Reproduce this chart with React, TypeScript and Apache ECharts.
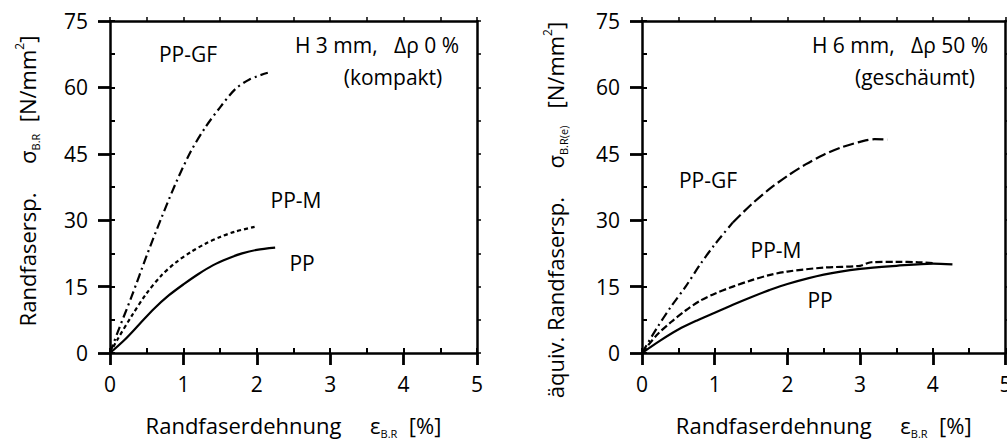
import React, { useEffect, useRef } from "react";
import * as echarts from "echarts";

const FONT = "'Open Sans', sans-serif";

// Left panel: H 3 mm, Δρ 0 % (kompakt)
const L_GF_X = [0, 0.1, 0.3, 0.5, 0.7, 0.9, 1.1, 1.3, 1.5, 1.7, 1.9, 2.15];
const L_GF_Y = [0, 4.5, 13, 22, 30.5, 38.5, 45.5, 51, 55.5, 59.5, 61.8, 63.3];
const L_M_X = [0, 0.1, 0.3, 0.5, 0.7, 0.9, 1.1, 1.3, 1.5, 1.7, 1.97];
const L_M_Y = [0, 3, 8.5, 13.5, 17.5, 20.5, 22.8, 24.7, 26.2, 27.4, 28.5];
const L_PP_X = [0, 0.2, 0.4, 0.6, 0.8, 1.0, 1.2, 1.4, 1.6, 1.8, 2.0, 2.25];
const L_PP_Y = [0, 3, 6.5, 10, 13, 15.5, 17.8, 19.8, 21.3, 22.5, 23.3, 23.8];

// Right panel: H 6 mm, Δρ 50 % (geschäumt)
const R_GF_A_X = [0, 0.2, 0.4, 0.6, 0.8, 1.0, 1.25];
const R_GF_A_Y = [0, 5.5, 10.5, 15, 20, 24.5, 29.5];
const R_GF_B_X = [1.25, 1.5, 1.75, 2.0, 2.25, 2.5, 2.75, 3.0, 3.2, 3.38];
const R_GF_B_Y = [29.5, 33.5, 37, 40, 42.6, 44.8, 46.5, 47.7, 48.3, 48.2];
const R_M_X = [0, 0.2, 0.4, 0.6, 0.8, 1.0, 1.25, 1.5, 1.75, 2.0, 2.5, 3.0, 3.15, 3.5, 3.8, 4.0];
const R_M_Y = [0, 4, 7, 9.6, 11.8, 13.4, 15, 16.4, 17.6, 18.4, 19.3, 19.7, 20.5, 20.6, 20.5, 20.3];
const R_PP_X = [0, 0.25, 0.5, 0.75, 1.0, 1.25, 1.5, 1.75, 2.0, 2.5, 3.0, 3.5, 4.0, 4.27];
const R_PP_Y = [0, 2.8, 5.3, 7.3, 9.1, 10.9, 12.6, 14.2, 15.6, 17.7, 19.0, 19.7, 20.2, 20.0];

const X_MIN = 0, X_MAX = 5, X_STEP = 1;
const Y_MIN = 0, Y_MAX = 75, Y_STEP = 15;

const pairs = (xs: number[], ys: number[]) => xs.map((x, i) => [x, ys[i]]);

const subRich = {
  sub: { fontSize: 11, fontFamily: FONT, verticalAlign: "bottom", lineHeight: 12, fill: "#000", color: "#000" },
  sup: { fontSize: 12, fontFamily: FONT, verticalAlign: "top", lineHeight: 12, fill: "#000", color: "#000" },
};

function xAxes(gridIndex: number) {
  return [
    {
      gridIndex, type: "value", min: X_MIN, max: X_MAX, interval: X_STEP, position: "bottom",
      axisLine: { show: true, onZero: false, lineStyle: { color: "#000", width: 2.5 } },
      axisTick: { show: true, inside: false, length: 12, lineStyle: { color: "#000", width: 2.8 } },
      axisLabel: { show: true, margin: 20, fontSize: 21, color: "#000", fontFamily: FONT },
      splitLine: { show: false },
      name: "Randfaserdehnung     ε{sub|B.R}  [%]",
      nameLocation: "middle", nameGap: 58,
      nameTextStyle: { fontSize: 22, fontFamily: FONT, color: "#000", lineHeight: 28, rich: subRich },
    },
    {
      gridIndex, type: "value", min: X_MIN, max: X_MAX, interval: 0.5, position: "bottom",
      axisLine: { show: false, onZero: false },
      axisTick: { show: true, inside: true, length: 5, lineStyle: { color: "#000", width: 2 } },
      axisLabel: { show: false }, splitLine: { show: false },
    },
    {
      gridIndex, type: "value", min: X_MIN, max: X_MAX, interval: 0.5, position: "top",
      axisLine: { show: true, onZero: false, lineStyle: { color: "#000", width: 2.5 } },
      axisTick: { show: true, inside: false, length: 4, lineStyle: { color: "#000", width: 1.5 } },
      axisLabel: { show: false }, splitLine: { show: false },
    },
  ];
}

function yAxes(gridIndex: number) {
  return [
    {
      gridIndex, type: "value", min: Y_MIN, max: Y_MAX, interval: Y_STEP, position: "left",
      axisLine: { show: true, onZero: false, lineStyle: { color: "#000", width: 2.5 } },
      axisTick: { show: true, inside: false, length: 12, lineStyle: { color: "#000", width: 2.8 } },
      axisLabel: { show: true, margin: 22, fontSize: 21, color: "#000", fontFamily: FONT },
      splitLine: { show: false },
    },
    {
      gridIndex, type: "value", min: Y_MIN, max: Y_MAX, interval: 7.5, position: "left",
      axisLine: { show: false, onZero: false },
      axisTick: { show: true, inside: true, length: 5, lineStyle: { color: "#000", width: 2 } },
      axisLabel: { show: false }, splitLine: { show: false },
    },
    {
      gridIndex, type: "value", min: Y_MIN, max: Y_MAX, interval: 7.5, position: "right",
      axisLine: { show: true, onZero: false, lineStyle: { color: "#000", width: 2.5 } },
      axisTick: { show: true, inside: false, length: 4, lineStyle: { color: "#000", width: 1.5 } },
      axisLabel: { show: false }, splitLine: { show: false },
    },
  ];
}

function line(name: string, xi: number, data: number[][], dash: any) {
  return {
    name, type: "line", xAxisIndex: xi, yAxisIndex: xi, data,
    showSymbol: false, symbol: "none", smooth: 0.3,
    lineStyle: { color: "#000", width: 2.2, type: dash, cap: "butt", join: "round" },
    silent: true, z: 5,
  };
}

function txt(text: string, x: number, y: number, extra: any = {}) {
  return {
    type: "text", x, y, z: 10,
    style: { text, fill: "#000", fontSize: 21, fontFamily: FONT, align: "center", verticalAlign: "middle", ...extra },
  };
}

export default function App() {
  const ref = useRef<HTMLDivElement>(null);
  useEffect(() => {
    if (!ref.current) return;
    const chart = echarts.init(ref.current, null, { renderer: "svg" });
    const option: any = {
      animation: false,
      backgroundColor: "#fff",
      grid: [
        { left: 110, right: 1007 - 477, top: 21, bottom: 88, outerBoundsMode: "none" },
        { left: 642, right: 1.5, top: 21, bottom: 88, outerBoundsMode: "none" },
      ],
      xAxis: [...xAxes(0), ...xAxes(1)],
      yAxis: [...yAxes(0), ...yAxes(1)],
      series: [
        line("PP-GF", 0, pairs(L_GF_X, L_GF_Y), [9, 4, 2, 4]),
        line("PP-M", 0, pairs(L_M_X, L_M_Y), [4, 3]),
        line("PP", 0, pairs(L_PP_X, L_PP_Y), "solid"),
        line("PP-GF", 3, pairs(R_GF_A_X, R_GF_A_Y), [9, 4, 2, 4]),
        line("PP-GF", 3, pairs(R_GF_B_X, R_GF_B_Y), [11, 4]),
        line("PP-M", 3, pairs(R_M_X, R_M_Y), [7, 3]),
        line("PP", 3, pairs(R_PP_X, R_PP_Y), "solid"),
      ],
      graphic: [
        txt("PP-GF", 188, 54),
        txt("H 3 mm,   Δρ 0 %", 377, 45),
        txt("(kompakt)", 393, 77),
        txt("PP-M", 296, 200),
        txt("PP", 302, 263),
        txt("H 6 mm,   Δρ 50 %", 900, 45),
        txt("(geschäumt)", 915, 77),
        txt("PP-GF", 708, 180),
        txt("PP-M", 776, 250),
        txt("PP", 820, 300),
        {
          type: "text", x: 27, y: 181, rotation: Math.PI / 2, z: 10,
          style: {
            text: "Randfasersp.     σ{sub|B.R}  [N/mm{sup|2}]",
            fill: "#000", fontSize: 22, fontFamily: FONT, lineHeight: 28,
            align: "center", verticalAlign: "middle", rich: subRich,
          },
        },
        {
          type: "text", x: 555, y: 210, rotation: Math.PI / 2, z: 10,
          style: {
            text: "äquiv. Randfasersp.     σ{sub|B.R(e)}   [N/mm{sup|2}]",
            fill: "#000", fontSize: 22, fontFamily: FONT, lineHeight: 28,
            align: "center", verticalAlign: "middle", rich: subRich,
          },
        },
      ],
    };
    chart.setOption(option);
    return () => chart.dispose();
  }, []);
  return (
    <div
      ref={ref}
      style={{ position: "fixed", left: 0, top: 0, width: 1007, height: 441, background: "#fff" }}
    />
  );
}
